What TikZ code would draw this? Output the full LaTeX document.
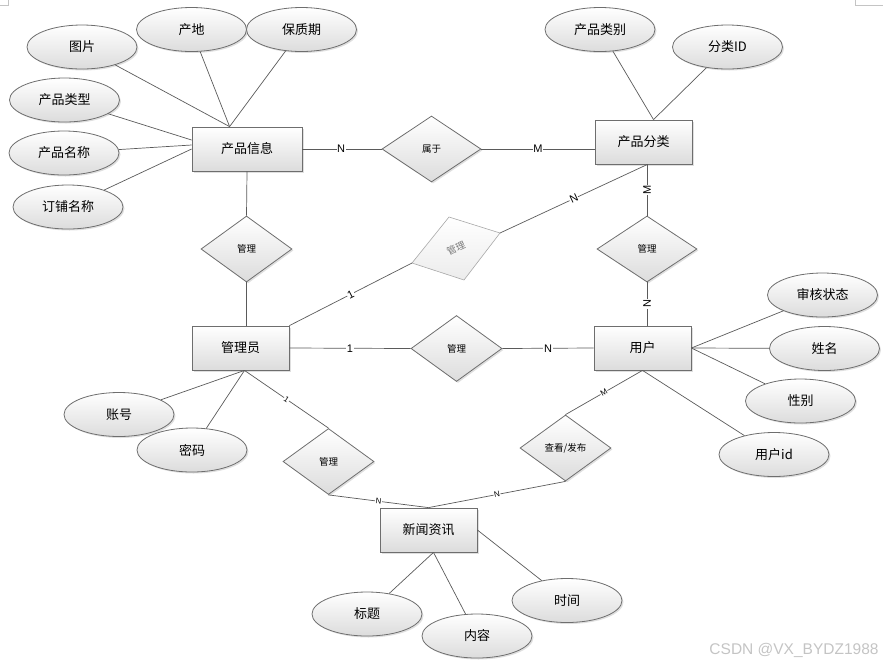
\documentclass[tikz,border=0pt]{standalone}
\usepackage{fontspec}
\setmainfont{Noto Sans CJK SC}
\newfontfamily\latin{Liberation Sans}
\usetikzlibrary{shapes.geometric, shadows}
\definecolor{cline}{HTML}{5A5A5A}
\definecolor{cedge}{HTML}{6E6E6E}
\definecolor{cfill}{HTML}{DCDCDC}
\definecolor{cfade}{HTML}{A8A8A8}
\definecolor{ctext}{HTML}{7A7A7A}
\definecolor{cmark}{HTML}{C4C4C4}
\tikzset{
  every picture/.style={line width=0.8pt},
  soft/.style={top color=white, bottom color=cfill, drop shadow={opacity=0.25, shadow xshift=1.5pt, shadow yshift=-1.5pt}},
  entity/.style={draw=cedge, soft, minimum width=#1, minimum height=44pt, inner sep=2pt, font=\fontsize{13}{15}\selectfont},
  entity/.default=97pt,
  attr/.style={ellipse, draw=cedge, soft, minimum width=110pt, minimum height=44pt, inner sep=1pt, font=\fontsize{13}{15}\selectfont},
  rel/.style={diamond, draw=cedge, soft, minimum width=#1, minimum height=66pt, inner sep=0pt, font=\fontsize{9.5}{11}\selectfont},
  rel/.default=91pt,
  link/.style={draw=cline, line width=0.7pt},
  card/.style={fill=white, inner sep=0.6pt, font=\latin\fontsize{11}{12}\selectfont},
  smallcard/.style={card, font=\latin\fontsize{8}{9}\selectfont},
}

\begin{document}
\begin{tikzpicture}[x=1pt, y=-1pt]
  \useasboundingbox (0,0) rectangle (883,665);
  % ---------- page corners ----------
  \draw[cmark, line width=0.6pt] (8,0) -- (8,5) -- (0,5);
  \draw[cmark, line width=0.6pt] (855,0) -- (855,5) -- (883,5);
  % ---------- entities ----------
  \node[entity=110pt] (cpxx) at (247,149) {产品信息};
  \node[entity] (cpfl) at (643.5,142) {产品分类};
  \node[entity] (gly) at (240.5,348) {管理员};
  \node[entity] (yh) at (642.5,348) {用户};
  \node[entity] (xw) at (428.5,530) {新闻资讯};
  % ---------- relations ----------
  \node[rel=99pt] (sy) at (431.5,149) {属于};
  \node[rel] (mg1) at (246.5,249) {管理};
  \node[rel] (mg2) at (456.5,348.5) {管理};
  \node[rel=100pt] (mg3) at (647,249) {管理};
  \node[rel] (mg4) at (328.5,461.5) {管理};
  \node[rel] (ck) at (565.5,448) {查看/发布};
  % faded, skewed relation
  \coordinate (fl) at (412,263);
  \coordinate (ft) at (449,217);
  \coordinate (fr) at (500,233);
  \coordinate (fb) at (464,280);
  \draw[draw=cfade, top color=white, bottom color=cfill!55, line width=0.6pt] (fl) -- (ft) -- (fr) -- (fb) -- cycle;
  \node[text=ctext, rotate=25, font=\fontsize{9.5}{11}\selectfont] (mgf) at (456,248) {管理};
  % ---------- attributes ----------
  \node[attr] (tp) at (82,47) {图片};
  \node[attr] (cd) at (191.5,29.5) {产地};
  \node[attr] (bzq) at (301.5,29.5) {保质期};
  \node[attr] (cplx) at (64.5,100) {产品类型};
  \node[attr] (cpmc) at (64,153) {产品名称};
  \node[attr] (dpmc) at (68,207) {订铺名称};
  \node[attr] (cplb) at (600,29.5) {产品类别};
  \node[attr] (flid) at (727.5,47) {分类ID};
  \node[attr] (shzt) at (822.5,295) {审核状态};
  \node[attr] (xm) at (824.5,348.5) {姓名};
  \node[attr] (xb) at (800.5,401) {性别};
  \node[attr] (yhid) at (774,454.5) {用户id};
  \node[attr] (zh) at (119,414.5) {账号};
  \node[attr] (mm) at (192,450) {密码};
  \node[attr] (bt) at (367,614) {标题};
  \node[attr] (nr) at (477,636) {内容};
  \node[attr] (sj) at (567,600.5) {时间};
  % ---------- attribute links ----------
  \coordinate (pt) at ([xshift=38pt]cpxx.north west);
  \foreach \a in {tp, cd, bzq} \draw[link] (\a) -- (pt);
  \draw[link] (cplx) -- ([yshift=9pt]cpxx.west);
  \draw[link] (cpmc) -- ([yshift=4pt]cpxx.west);
  \draw[link] (dpmc) -- (cpxx.west);
  \coordinate (ft2) at ([xshift=10pt]cpfl.north);
  \foreach \a in {cplb, flid} \draw[link] (\a) -- (ft2);
  \foreach \a in {shzt, xm, xb} \draw[link] (\a) -- (yh.east);
  \draw[link] (yhid) -- (yh.south);
  \coordinate (gs) at ([xshift=4pt]gly.south);
  \foreach \a in {zh, mm} \draw[link] (\a) -- (gs);
  \coordinate (xs) at ([xshift=5pt]xw.south);
  \foreach \a in {bt, nr} \draw[link] (\a) -- (xs);
  \draw[link] (sj) -- (xw.east);
  % ---------- relation links ----------
  \draw[link] (cpxx.east) -- node[card, pos=0.49] {N} (sy.west);
  \draw[link] (sy.east) -- node[card, midway] {M} (sy.east -| cpfl.west);
  \draw[link] (cpxx.south) -- (mg1.north);
  \draw[link] (mg1.south) -- (mg1.south |- gly.north);
  \draw[link] (gly.north east) -- node[card, sloped, midway] {1} (fl);
  \draw[link] (fr) -- node[card, sloped, midway] {N} ([xshift=4pt]cpfl.south);
  \draw[link] (gly.east) -- node[card, midway] {1} (mg2.west);
  \draw[link] (mg2.east) -- node[card, midway] {N} (yh.west);
  \draw[link] (cpfl.south -| mg3.north) -- node[card, rotate=90, midway] {M} (mg3.north);
  \draw[link] (mg3.south) -- node[card, rotate=90, midway] {N} (mg3.south |- yh.north);
  \draw[link] (gs) -- node[smallcard, sloped, midway] {1} (mg4.north);
  \draw[link] (mg4.south) -- node[smallcard, sloped, midway] {N} (xw.north);
  \draw[link] (yh.south) -- node[smallcard, sloped, midway] {M} (ck.north);
  \draw[link] (ck.south) -- node[smallcard, sloped, midway] {N} (xw.north);
  % ---------- watermark ----------
  \node[text=cmark, font=\latin\fontsize{15.5}{17}\selectfont] (wm) at (794,650) {CSDN @VX\_BYDZ1988};
\end{tikzpicture}
\end{document}
